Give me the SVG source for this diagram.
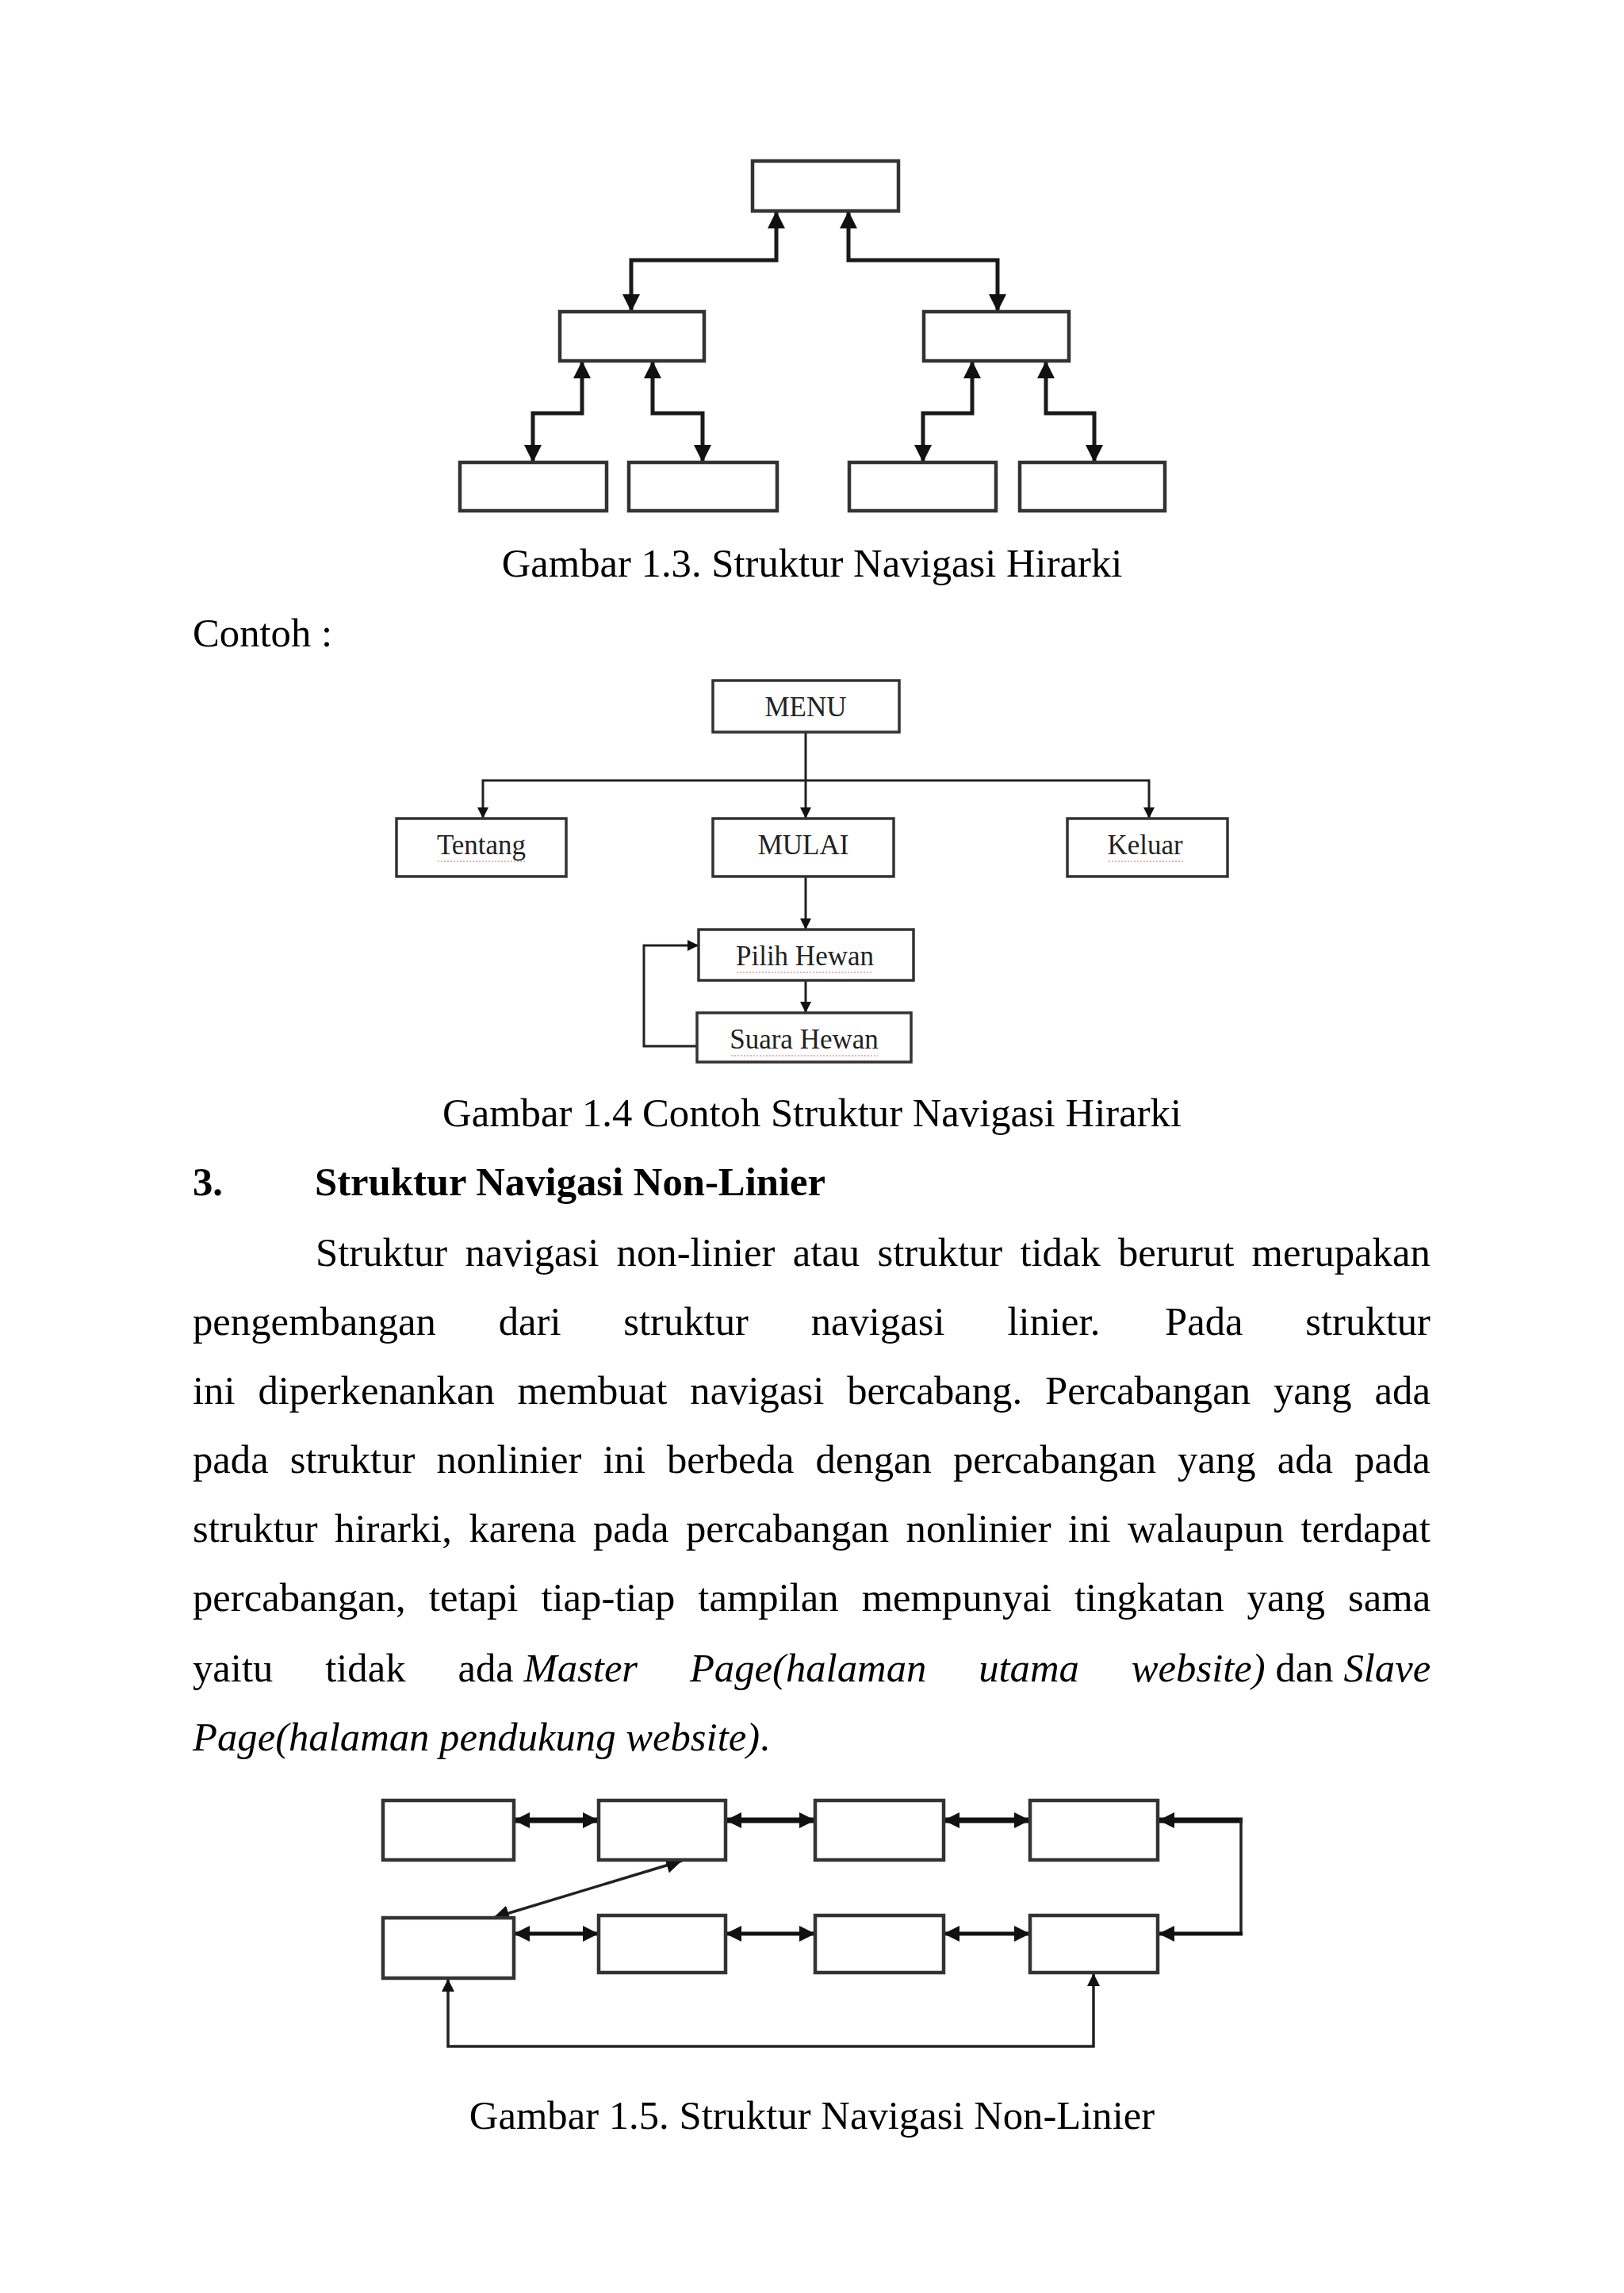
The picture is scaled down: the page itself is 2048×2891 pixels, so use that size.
<svg xmlns="http://www.w3.org/2000/svg" width="2048" height="2891" viewBox="0 0 2048 2891">
<style>
text{font-family:"Liberation Serif","Times New Roman",serif;fill:#000}
.body{font-size:50.7px}
.it{font-style:italic}
.bold{font-weight:bold}
.cap{font-size:50.7px;text-anchor:middle}
.lbl{font-size:35px;text-anchor:middle;fill:#222}
.box1{fill:#fff;stroke:#333;stroke-width:4.5}
.box2{fill:#fff;stroke:#333;stroke-width:3.5}
.box3{fill:#fff;stroke:#333;stroke-width:4.5}
.c1{fill:none;stroke:#1a1a1a;stroke-width:5}
.c2{fill:none;stroke:#222;stroke-width:3}
.c3t{fill:none;stroke:#111;stroke-width:7}
.c3b{fill:none;stroke:#111;stroke-width:5}
.c3n{fill:none;stroke:#222;stroke-width:3.5}
.sq{fill:none;stroke:#c87070;stroke-width:1.6;stroke-dasharray:2 2;opacity:0.7}
</style>
<defs>
<marker id="a1" viewBox="0 0 22 22" refX="22" refY="11" markerWidth="22" markerHeight="22" markerUnits="userSpaceOnUse" orient="auto-start-reverse"><path d="M0,0 L22,11 L0,22 z" fill="#111"/></marker>
<marker id="a2" viewBox="0 0 14 14" refX="14" refY="7" markerWidth="14" markerHeight="14" markerUnits="userSpaceOnUse" orient="auto-start-reverse"><path d="M0,0 L14,7 L0,14 z" fill="#111"/></marker>
<marker id="a3" viewBox="0 0 20 20" refX="20" refY="10" markerWidth="20" markerHeight="20" markerUnits="userSpaceOnUse" orient="auto-start-reverse"><path d="M0,0 L20,10 L0,20 z" fill="#111"/></marker>
<marker id="a4" viewBox="0 0 16 16" refX="16" refY="8" markerWidth="16" markerHeight="16" markerUnits="userSpaceOnUse" orient="auto-start-reverse"><path d="M0,0 L16,8 L0,16 z" fill="#111"/></marker>
</defs>
<rect width="2048" height="2891" fill="#fff"/>

<!-- Diagram 1: hierarchy -->
<g id="d1-connectors">
<path class="c1" d="M796,393 V328 H979 V266" marker-start="url(#a1)" marker-end="url(#a1)"/>
<path class="c1" d="M1258,393 V328 H1070 V266" marker-start="url(#a1)" marker-end="url(#a1)"/>
<path class="c1" d="M672,583 V521 H734 V455" marker-start="url(#a1)" marker-end="url(#a1)"/>
<path class="c1" d="M886,583 V521 H823 V455" marker-start="url(#a1)" marker-end="url(#a1)"/>
<path class="c1" d="M1164,583 V521 H1226 V455" marker-start="url(#a1)" marker-end="url(#a1)"/>
<path class="c1" d="M1380,583 V521 H1319 V455" marker-start="url(#a1)" marker-end="url(#a1)"/>
</g>
<g id="d1-root"><rect class="box1" x="949" y="203" width="184" height="63"/></g>
<g id="d1-mid-left"><rect class="box1" x="706" y="393" width="182" height="62"/></g>
<g id="d1-mid-right"><rect class="box1" x="1165" y="393" width="183" height="62"/></g>
<g id="d1-leaf-1"><rect class="box1" x="580" y="583" width="185" height="61"/></g>
<g id="d1-leaf-2"><rect class="box1" x="793" y="583" width="187" height="61"/></g>
<g id="d1-leaf-3"><rect class="box1" x="1071" y="583" width="185" height="61"/></g>
<g id="d1-leaf-4"><rect class="box1" x="1286" y="583" width="183" height="61"/></g>

<text class="cap" x="1024" y="727">Gambar 1.3. Struktur Navigasi Hirarki</text>
<text class="body" x="243" y="815">Contoh :</text>

<!-- Diagram 2: example hierarchy -->
<g id="d2-connectors">
<path class="c2" d="M1016,923 V1032" marker-end="url(#a2)"/>
<path class="c2" d="M609,1032 V984 H1449 V1032" marker-start="url(#a2)" marker-end="url(#a2)"/>
<path class="c2" d="M1016,1105 V1172" marker-end="url(#a2)"/>
<path class="c2" d="M1016,1236 V1277" marker-end="url(#a2)"/>
<path class="c2" d="M879,1319 H812 V1192 H881" marker-end="url(#a2)"/>
</g>
<g id="d2-menu"><rect class="box2" x="899" y="858" width="235" height="65"/><text class="lbl" x="1016" y="903">MENU</text></g>
<g id="d2-tentang"><rect class="box2" x="500" y="1032" width="214" height="73"/><text class="lbl" x="607" y="1077">Tentang</text><path class="sq" d="M552,1086 H664"/></g>
<g id="d2-mulai"><rect class="box2" x="899" y="1032" width="228" height="73"/><text class="lbl" x="1013" y="1077">MULAI</text></g>
<g id="d2-keluar"><rect class="box2" x="1346" y="1032" width="202" height="73"/><text class="lbl" x="1444" y="1077">Keluar</text><path class="sq" d="M1398,1086 H1492"/></g>
<g id="d2-pilih"><rect class="box2" x="881" y="1172" width="271" height="64"/><text class="lbl" x="1015" y="1217">Pilih Hewan</text><path class="sq" d="M929,1226 H1100"/></g>
<g id="d2-suara"><rect class="box2" x="879" y="1277" width="270" height="62"/><text class="lbl" x="1014" y="1322">Suara Hewan</text><path class="sq" d="M922,1331 H1107"/></g>

<text class="cap" x="1024" y="1420">Gambar 1.4 Contoh Struktur Navigasi Hirarki</text>
<text class="body bold" x="243" y="1507">3.</text>
<text class="body bold" x="397" y="1507">Struktur Navigasi Non-Linier</text>

<!-- Paragraph (justified) -->
<g id="paragraph" class="body">
<text class="body" y="1596"><tspan x="398">Struktur</tspan><tspan x="586.4">navigasi</tspan><tspan x="777.6">non-linier</tspan><tspan x="999.8">atau</tspan><tspan x="1106.5">struktur</tspan><tspan x="1286.4">tidak</tspan><tspan x="1410">berurut</tspan><tspan x="1578.6">merupakan</tspan></text>
<text class="body" y="1683"><tspan x="243">pengembangan</tspan><tspan x="628.7">dari</tspan><tspan x="786.2">struktur</tspan><tspan x="1022.7">navigasi</tspan><tspan x="1270.5">linier.</tspan><tspan x="1469">Pada</tspan><tspan x="1646.3">struktur</tspan></text>
<text class="body" y="1770"><tspan x="243">ini</tspan><tspan x="325.4">diperkenankan</tspan><tspan x="652.6">membuat</tspan><tspan x="870.3">navigasi</tspan><tspan x="1068.2">bercabang.</tspan><tspan x="1318.1">Percabangan</tspan><tspan x="1606">yang</tspan><tspan x="1733.6">ada</tspan></text>
<text class="body" y="1857"><tspan x="243">pada</tspan><tspan x="365.7">struktur</tspan><tspan x="550.4">nonlinier</tspan><tspan x="760.5">ini</tspan><tspan x="841">berbeda</tspan><tspan x="1028.5">dengan</tspan><tspan x="1201.9">percabangan</tspan><tspan x="1485.1">yang</tspan><tspan x="1610.7">ada</tspan><tspan x="1708.1">pada</tspan></text>
<text class="body" y="1944"><tspan x="243">struktur</tspan><tspan x="422.1">hirarki,</tspan><tspan x="591.4">karena</tspan><tspan x="747.9">pada</tspan><tspan x="865">percabangan</tspan><tspan x="1142.6">nonlinier</tspan><tspan x="1347.1">ini</tspan><tspan x="1422">walaupun</tspan><tspan x="1640.5">terdapat</tspan></text>
<text class="body" y="2031"><tspan x="243">percabangan,</tspan><tspan x="540.8">tetapi</tspan><tspan x="682.4">tiap-tiap</tspan><tspan x="880.3">tampilan</tspan><tspan x="1086.7">mempunyai</tspan><tspan x="1355">tingkatan</tspan><tspan x="1572.6">yang</tspan><tspan x="1700.1">sama</tspan></text>
<text class="body" y="2120"><tspan x="243">yaitu</tspan><tspan x="410.2">tidak</tspan><tspan x="577.4">ada</tspan><tspan class="it" x="660.5">Master</tspan><tspan class="it" x="869.9">Page(halaman</tspan><tspan class="it" x="1234.2">utama</tspan><tspan class="it" x="1426.8">website)</tspan><tspan x="1608.5">dan</tspan><tspan class="it" x="1694.4">Slave</tspan></text>
<text class="body" x="243" y="2207"><tspan class="it">Page(halaman pendukung website)</tspan>.</text>
</g>

<!-- Diagram 3: non-linear -->
<g id="d3-connectors">
<path class="c3t" d="M648,2295 H755" marker-start="url(#a3)" marker-end="url(#a3)"/>
<path class="c3t" d="M915,2295 H1028" marker-start="url(#a3)" marker-end="url(#a3)"/>
<path class="c3t" d="M1190,2295 H1299" marker-start="url(#a3)" marker-end="url(#a3)"/>
<path class="c3t" d="M1567,2295 H1461" marker-end="url(#a3)"/>
<path class="c3n" d="M1565,2292 V2438"/>
<path class="c3b" d="M1567,2438 H1461" marker-end="url(#a3)"/>
<path class="c3b" d="M648,2438 H755" marker-start="url(#a3)" marker-end="url(#a3)"/>
<path class="c3b" d="M915,2438 H1028" marker-start="url(#a3)" marker-end="url(#a3)"/>
<path class="c3b" d="M1190,2438 H1299" marker-start="url(#a3)" marker-end="url(#a3)"/>
<path class="c3n" d="M622,2418 L860,2346" marker-start="url(#a3)" marker-end="url(#a3)"/>
<path class="c3n" d="M565,2495 V2580 H1379 V2488" marker-start="url(#a4)" marker-end="url(#a4)"/>
</g>
<g id="d3-t1"><rect class="box3" x="483" y="2270" width="165" height="75"/></g>
<g id="d3-t2"><rect class="box3" x="755" y="2270" width="160" height="75"/></g>
<g id="d3-t3"><rect class="box3" x="1028" y="2270" width="162" height="75"/></g>
<g id="d3-t4"><rect class="box3" x="1299" y="2270" width="161" height="75"/></g>
<g id="d3-b1"><rect class="box3" x="483" y="2418" width="165" height="76"/></g>
<g id="d3-b2"><rect class="box3" x="755" y="2415" width="160" height="72"/></g>
<g id="d3-b3"><rect class="box3" x="1028" y="2415" width="162" height="72"/></g>
<g id="d3-b4"><rect class="box3" x="1299" y="2415" width="161" height="72"/></g>

<text class="cap" x="1024" y="2684">Gambar 1.5. Struktur Navigasi Non-Linier</text>
</svg>
